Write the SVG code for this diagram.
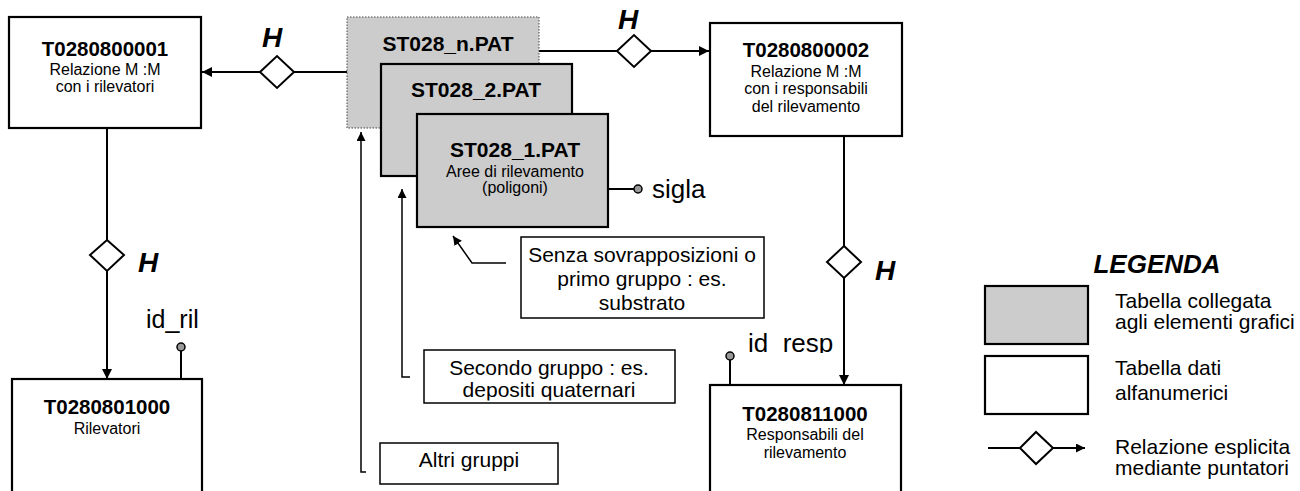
<svg xmlns="http://www.w3.org/2000/svg" width="1300" height="491" viewBox="0 0 1300 491">
<style>
text{font-family:"Liberation Sans",Arial,sans-serif;fill:#000}
.t{font-weight:bold;font-size:20.5px;text-anchor:middle}
.s{font-size:16px;text-anchor:middle}
.c{font-size:21px;text-anchor:middle}
.l{font-size:21px}
.p{font-size:26px}
.h{font-weight:bold;font-style:italic;font-size:28px}
.box{fill:#fff;stroke:#000;stroke-width:2.2}
.gbox{fill:#cccccc;stroke:#000;stroke-width:2.2}
.nbox{fill:#cccccc;stroke:#444;stroke-width:1;stroke-dasharray:1.5 1.5}
.cbox{fill:#fff;stroke:#000;stroke-width:1.5}
.ln{fill:none;stroke:#000;stroke-width:2}
.thin{fill:none;stroke:#000;stroke-width:1.5}
.dia{fill:#fff;stroke:#000;stroke-width:2}
.pin{fill:#999;stroke:#000;stroke-width:1.5}
</style>
<defs>
<marker id="ah" viewBox="0 0 10 10" refX="10" refY="5" markerWidth="10" markerHeight="10" markerUnits="userSpaceOnUse" orient="auto">
<path d="M0,0 L10,5 L0,10 z" fill="#000"/>
</marker>
<marker id="ahs" viewBox="0 0 10 10" refX="10" refY="5" markerWidth="9" markerHeight="9" markerUnits="userSpaceOnUse" orient="auto">
<path d="M0,0 L10,5 L0,10 z" fill="#000"/>
</marker>
<clipPath id="clipResp"><rect x="740" y="300" width="130" height="53"/></clipPath>
<clipPath id="clipSec"><rect x="425" y="351" width="249" height="49.5"/></clipPath>
</defs>

<g id="connectors">
<line class="ln" x1="347" y1="72" x2="294" y2="72"/>
<polygon class="dia" points="260,72 277,56 294,72 277,88"/>
<line class="ln" x1="260" y1="72" x2="202" y2="72" marker-end="url(#ah)"/>
<line class="ln" x1="539" y1="51" x2="617" y2="51"/>
<polygon class="dia" points="617,51 634,35 651,51 634,67"/>
<line class="ln" x1="651" y1="51" x2="709" y2="51" marker-end="url(#ah)"/>
<line class="ln" x1="107" y1="128" x2="107" y2="240"/>
<polygon class="dia" points="107,240 124,255 107,271 90,255"/>
<line class="ln" x1="107" y1="271" x2="107" y2="379" marker-end="url(#ah)"/>
<line class="ln" x1="844" y1="136" x2="844" y2="246"/>
<polygon class="dia" points="844,246 861,262 844,278 827,262"/>
<line class="ln" x1="844" y1="278" x2="844" y2="385" marker-end="url(#ah)"/>
<line class="ln" x1="608" y1="189" x2="634" y2="189"/>
<circle class="pin" cx="638" cy="189" r="4"/>
<line class="ln" x1="181" y1="379" x2="181" y2="351"/>
<circle class="pin" cx="181" cy="347" r="4"/>
<line class="ln" x1="730" y1="385" x2="730" y2="360"/>
<circle class="pin" cx="730" cy="356" r="4"/>
<polyline class="thin" points="506,263 472,263 453,236" marker-end="url(#ahs)"/>
<polyline class="thin" points="410,377 402,377 402,189" marker-end="url(#ahs)"/>
<polyline class="thin" points="366,472 361,472 361,132" marker-end="url(#ahs)"/>
</g>

<g id="T0280800001">
<rect class="box" x="9" y="17" width="192" height="111"/>
<text class="t" x="105" y="56">T0280800001</text>
<text class="s" x="105" y="75">Relazione M :M</text>
<text class="s" x="105" y="92">con i rilevatori</text>
</g>

<g id="ST028_n">
<rect class="nbox" x="347" y="17" width="192" height="111"/>
<text class="t" x="448" y="51" style="font-size:21px">ST028_n.PAT</text>
</g>
<g id="ST028_2">
<rect class="gbox" x="381" y="64" width="191" height="112"/>
<text class="t" x="476" y="97" style="font-size:21px">ST028_2.PAT</text>
</g>
<g id="ST028_1">
<rect class="gbox" x="417" y="114" width="191" height="113"/>
<text class="t" x="515" y="157" style="font-size:21px">ST028_1.PAT</text>
<text class="s" x="515" y="177">Aree di rilevamento</text>
<text class="s" x="515" y="193">(poligoni)</text>
</g>

<g id="T0280800002">
<rect class="box" x="710" y="23" width="192" height="113"/>
<text class="t" x="806" y="57">T0280800002</text>
<text class="s" x="806" y="77">Relazione M :M</text>
<text class="s" x="806" y="94">con i responsabili</text>
<text class="s" x="806" y="112">del rilevamento</text>
</g>

<g id="T0280801000">
<rect class="box" x="12" y="379" width="190" height="130"/>
<text class="t" x="107" y="414">T0280801000</text>
<text class="s" x="107" y="434">Rilevatori</text>
</g>

<g id="T0280811000">
<rect class="box" x="710" y="385" width="191" height="130"/>
<text class="t" x="805" y="421">T0280811000</text>
<text class="s" x="805" y="440">Responsabili del</text>
<text class="s" x="805" y="458">rilevamento</text>
</g>

<g id="labels">
<text class="h" x="272" y="47" text-anchor="middle">H</text>
<text class="h" x="628" y="29" text-anchor="middle">H</text>
<text class="h" x="138" y="272">H</text>
<text class="h" x="875" y="280">H</text>
<text class="p" x="652" y="198">sigla</text>
<text class="p" x="146" y="328" style="font-size:25px">id_ril</text>
<text class="p" x="748" y="352" clip-path="url(#clipResp)">id_resp</text>
</g>

<g id="callout1">
<rect class="cbox" x="521" y="237" width="243" height="81"/>
<text class="c" x="642" y="262">Senza sovrapposizioni o</text>
<text class="c" x="642" y="286">primo gruppo : es.</text>
<text class="c" x="642" y="310">substrato</text>
</g>
<g id="callout2">
<rect class="cbox" x="424" y="350" width="251" height="53"/>
<text class="c" x="549" y="375">Secondo gruppo : es.</text>
<text class="c" x="549" y="397" clip-path="url(#clipSec)">depositi quaternari</text>
</g>
<g id="callout3">
<rect class="cbox" x="380" y="443" width="178" height="41"/>
<text class="c" x="469" y="467">Altri gruppi</text>
</g>

<g id="legend">
<text class="h" x="1157" y="273" text-anchor="middle" style="font-size:26px">LEGENDA</text>
<rect class="gbox" x="985" y="286" width="103" height="58"/>
<rect class="box" x="985" y="356" width="103" height="58"/>
<line class="ln" x1="988" y1="448" x2="1020" y2="448"/>
<polygon class="dia" points="1020,448 1036,432 1053,448 1036,464"/>
<line class="ln" x1="1053" y1="448" x2="1085" y2="448" marker-end="url(#ahs)"/>
<text class="l" x="1115" y="308">Tabella collegata</text>
<text class="l" x="1115" y="329">agli elementi grafici</text>
<text class="l" x="1115" y="375">Tabella dati</text>
<text class="l" x="1115" y="400">alfanumerici</text>
<text class="l" x="1115" y="454">Relazione esplicita</text>
<text class="l" x="1115" y="475">mediante puntatori</text>
</g>
</svg>
